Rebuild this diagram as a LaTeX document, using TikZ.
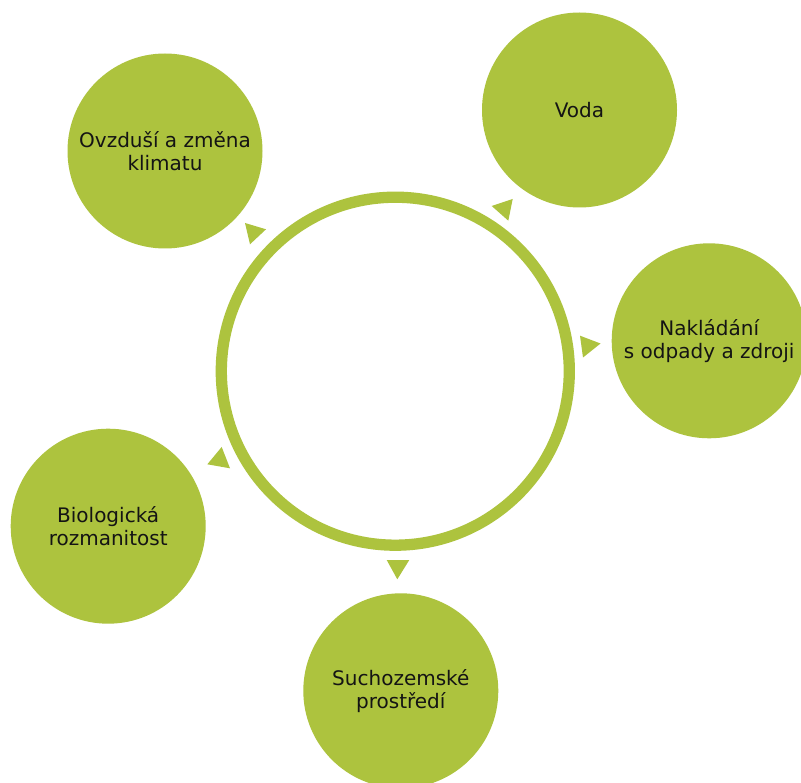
\documentclass[tikz,border=0pt]{standalone}
\usepackage{fontspec}
\setmainfont{DejaVu Sans}
\definecolor{olive}{RGB}{173,195,62}
\definecolor{txt}{RGB}{20,20,20}
\begin{document}
\begin{tikzpicture}[x=1pt,y=-1pt,
  bub/.style={circle, fill=olive, minimum size=195pt, inner sep=0pt, align=center,
    text=txt, font=\fontsize{20}{23}\selectfont},
  ringstyle/.style={circle, draw=olive, line width=11.3pt, minimum size=348pt, inner sep=0pt},
  tri/.style={fill=olive}]
\useasboundingbox (0,0) rectangle (801,783);
\clip (0,0) rectangle (801,783);
\fill[white] (0,0) rectangle (801,783);

\node[ringstyle] (ring) at (395.3,371.2) {};

\node[bub] (ovz) at (165,151) {Ovzduší a změna\\klimatu};
\node[bub] (voda) at (579.5,110) {Voda};
\node[bub] (nakl) at (709.2,340.8) {Nakládání\\s odpady a zdroji};
\node[bub] (such) at (400.8,690.8) {Suchozemské\\prostředí};
\node[bub] (bio) at (108.2,526.2) {Biologická\\rozmanitost};

\coordinate (t1a) at (245,223);   \coordinate (t1b) at (266,229.3); \coordinate (t1c) at (250,244.3);
\coordinate (t2a) at (491.7,206); \coordinate (t2b) at (512.7,199); \coordinate (t2c) at (508.3,220.7);
\coordinate (t3a) at (580,335.7); \coordinate (t3b) at (600.5,343.5); \coordinate (t3c) at (583,357.5);
\coordinate (t4a) at (386.7,560); \coordinate (t4b) at (409.3,560); \coordinate (t4c) at (397.3,579.3);
\coordinate (t5a) at (221.7,447); \coordinate (t5b) at (230,468.3); \coordinate (t5c) at (207.3,464.3);

\fill[tri] (t1a) -- (t1b) -- (t1c) -- cycle;
\fill[tri] (t2a) -- (t2b) -- (t2c) -- cycle;
\fill[tri] (t3a) -- (t3b) -- (t3c) -- cycle;
\fill[tri] (t4a) -- (t4b) -- (t4c) -- cycle;
\fill[tri] (t5a) -- (t5b) -- (t5c) -- cycle;
\end{tikzpicture}
\end{document}
